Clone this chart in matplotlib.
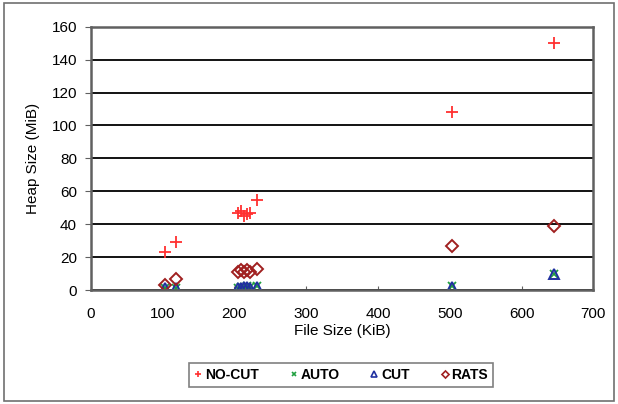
import matplotlib
matplotlib.use("Agg")
import matplotlib.pyplot as plt
from matplotlib.patches import Rectangle

plt.rcParams['font.family'] = ['Liberation Sans', 'DejaVu Sans']

# file size (KiB) of each benchmark input
file_size = [104, 119, 205, 209, 213, 217, 222, 232, 503, 645]
# heap size (MiB) per method
no_cut = [23, 29, 47, 48, 45, 46, 47, 55, 108, 150]
auto = [1.5, 1.5, 1.5, 2, 2, 2.5, 2, 2.5, 2.5, 10]
cut = [1, 1.5, 1.5, 1.5, 2, 2, 1.5, 2, 2, 10]
rats = [3, 7, 11, 12, 11, 12, 11, 13, 27, 39]

fig = plt.figure(figsize=(6.18, 4.04), dpi=100)
# outer frame
fig.patches.append(Rectangle((0.006, 0.008), 0.988, 0.984, transform=fig.transFigure,
                             fill=False, edgecolor='#707070', lw=1.2))
ax = fig.add_axes([0.147, 0.282, 0.813, 0.652])

ax.plot(file_size, no_cut, '+', color='#ff3030', ms=8, mew=1.3, label='NO-CUT')
ax.plot(file_size, auto, 'x', color='#20a040', ms=6, mew=1.3, label='AUTO')
ax.plot(file_size, cut, '^', color='#2030a0', ms=7, mew=1.4, mfc='none', label='CUT')
ax.plot(file_size, rats, 'D', color='#a02020', ms=6, mew=1.4, mfc='none', label='RATS')

ax.set_xlim(0, 700)
ax.set_ylim(0, 160)
ax.set_xticks(range(0, 701, 100))
ax.set_yticks(range(0, 161, 20))
ax.yaxis.grid(True, color='black', lw=1.3)
ax.set_axisbelow(True)
for s in ax.spines.values():
    s.set_color('#606060')
    s.set_linewidth(1.8)
ax.tick_params(axis='x', direction='in', length=3, color='#606060', labelsize=11, pad=12)
ax.tick_params(axis='y', direction='out', length=4, color='#606060', labelsize=11, pad=6)

ax.set_xlabel('File Size (KiB)', fontsize=11, labelpad=2)
ax.set_ylabel('Heap Size (MiB)', fontsize=11, labelpad=8)

leg = fig.legend(loc='center', bbox_to_anchor=(0.552, 0.071), ncol=4, frameon=True,
                 fancybox=False, edgecolor='#606060', handlelength=0.6, markerscale=0.6,
                 handletextpad=0.2, columnspacing=2.2, borderpad=0.35,
                 borderaxespad=0, prop={'weight': 'bold', 'size': 10})
leg.get_frame().set_linewidth(1.2)
for h in leg.legend_handles:
    h.set_markeredgewidth(1.2)

fig.savefig('out.png', dpi=100)
